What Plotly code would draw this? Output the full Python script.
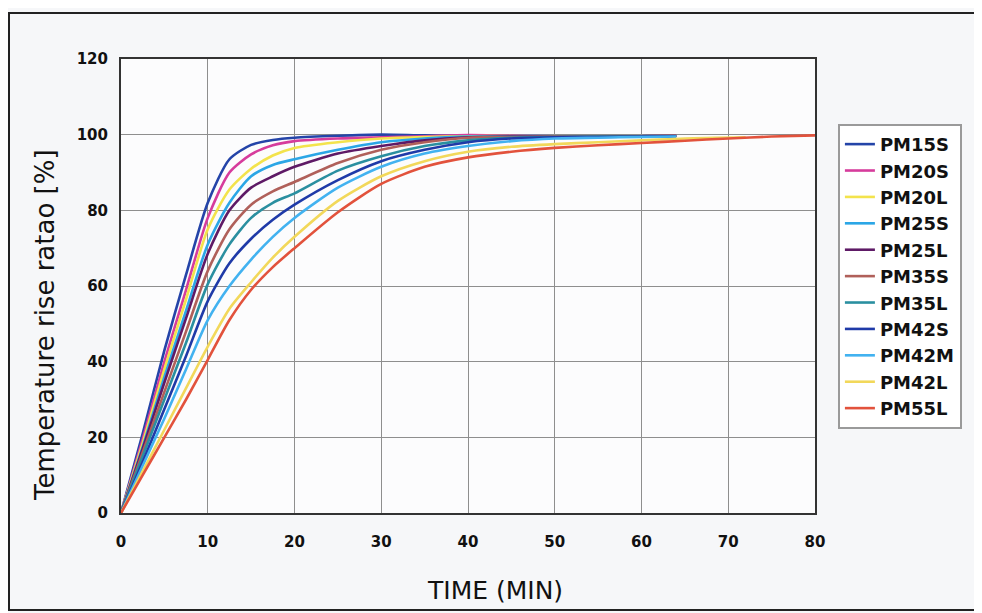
import plotly.graph_objects as go

# ---- data ----
names = ["PM15S", "PM20S", "PM20L", "PM25S", "PM25L", "PM35S",
         "PM35L", "PM42S", "PM42M", "PM42L", "PM55L"]

t_main = [0, 2.5, 5, 7.5, 10, 12.5, 15, 17.5, 20, 25, 30, 35, 40, 45, 50, 55, 60, 64]
t_42L = [0, 2.5, 5, 7.5, 10, 12.5, 15, 17.5, 20, 25, 30, 35, 40, 45, 50, 55, 60, 65, 72]
t_55L = [0, 2.5, 5, 7.5, 10, 12.5, 15, 17.5, 20, 25, 30, 35, 40, 45, 50, 55, 60, 65, 70, 75, 80]

pm15s = [0, 21, 43, 63, 82, 93.5, 97.3, 98.6, 99.2, 99.7, 100, 99.8, 99.6, 99.5, 99.5, 99.6, 99.6, 99.8]
pm20s = [0, 19.5, 40, 59, 78, 90, 94.8, 97.2, 98.3, 99.0, 99.3, 99.6, 99.9, 99.7, 99.6, 99.6, 99.6, 99.7]
pm20l = [0, 18.5, 38, 56.5, 75, 85.5, 91, 94.5, 96.5, 98, 99, 99.4, 99.6, 99.6, 99.6, 99.6, 99.6, 99.7]
pm25s = [0, 17.5, 36, 53.5, 71, 82, 89, 92, 93.5, 96, 98, 99, 99.5, 99.6, 99.6, 99.6, 99.6, 99.7]
pm25l = [0, 17, 34.5, 51.5, 68.5, 80, 86, 89, 91.5, 95, 97, 98.5, 99.3, 99.5, 99.5, 99.5, 99.6, 99.7]
pm35s = [0, 16, 32, 48, 64, 75, 81.5, 85, 87.5, 92.5, 96, 98, 99.2, 99.4, 99.5, 99.5, 99.6, 99.7]
pm35l = [0, 15, 30, 45, 60.5, 71, 78, 82, 84.5, 90.5, 94.3, 97, 98.5, 99.2, 99.4, 99.5, 99.5, 99.6]
pm42s = [0, 13.5, 27.5, 41.5, 56, 66, 72.5, 77.5, 81.5, 88, 93, 96, 98, 99, 99.3, 99.4, 99.5, 99.6]
pm42m = [0, 12.5, 25, 38, 51, 60, 67, 73, 78, 86, 91.5, 95, 97, 98.3, 99, 99.2, 99.4, 99.5]
pm42l = [0, 11, 22, 33, 44, 54, 61, 67.5, 73, 82.5, 89, 93, 95.5, 96.8, 97.5, 98, 98.5, 99, 99.3]
pm55l = [0, 10, 20, 30, 40.5, 51, 59, 65, 70, 79.5, 87, 91.5, 94, 95.5, 96.5, 97.2, 97.8, 98.4, 99, 99.5, 99.8]

series = [
    (t_main, pm15s), (t_main, pm20s), (t_main, pm20l), (t_main, pm25s),
    (t_main, pm25l), (t_main, pm35s), (t_main, pm35l), (t_main, pm42s),
    (t_main, pm42m), (t_42L, pm42l), (t_55L, pm55l),
]
colors = ["#2444a8", "#d63c9c", "#f3e34c", "#2ba6e6", "#5e1a66", "#b0605a",
          "#2a8fa0", "#1f3aa8", "#42b2f0", "#f2d85a", "#e2523c"]

x_ticks = [0, 10, 20, 30, 40, 50, 60, 70, 80]
y_ticks = [0, 20, 40, 60, 80, 100, 120]
x_title = "TIME (MIN)"
y_title = "Temperature rise ratao [%]"

fig = go.Figure()
for name, (xs, ys), c in zip(names, series, colors):
    fig.add_trace(go.Scatter(x=xs, y=ys, name=name, mode="lines",
                             line=dict(color=c, width=2.6, shape="spline", smoothing=0.7)))

FONT = "DejaVu Sans"
# page body has an 8px margin: figure is drawn at (8, 8)
W, H = 974, 605
L, T, PW, PH = 113, 51, 694, 454
fig.update_layout(
    width=W, height=H,
    margin=dict(l=L, r=W - L - PW, t=T, b=H - T - PH),
    paper_bgcolor="#f6f7f9",
    plot_bgcolor="#fcfcfd",
    font=dict(family=FONT, color="#111111"),
    showlegend=True,
    legend=dict(x=1.033, y=0.857, xanchor="left", yanchor="top",
                bgcolor="#ffffff", bordercolor="#9a9a9a", borderwidth=2,
                font=dict(family=FONT, size=18, color="#111111", weight="bold"),
                itemwidth=30),
    xaxis=dict(range=[0, 80], tickvals=x_ticks, showgrid=True, gridcolor="#8e8e8e",
               gridwidth=1, zeroline=False, showline=True, linecolor="#333333",
               linewidth=2, mirror=True, ticks="", ticklabelstandoff=14,
               tickfont=dict(family=FONT, size=15, weight="bold", color="#111111")),
    yaxis=dict(range=[0, 120], tickvals=y_ticks, showgrid=True, gridcolor="#8e8e8e",
               gridwidth=1, zeroline=False, showline=True, linecolor="#333333",
               linewidth=2, mirror=True, ticks="", ticklabelstandoff=8,
               tickfont=dict(family=FONT, size=15, weight="bold", color="#111111")),
)

# axis titles (offset from the plot centre as in the original)
fig.add_annotation(text=x_title, xref="paper", yref="paper",
                   x=(495 - 121) / PW, y=(513 - 590) / PH,
                   xanchor="center", yanchor="middle", showarrow=False,
                   font=dict(family=FONT, size=25, color="#111111"))
fig.add_annotation(text=y_title, xref="paper", yref="paper",
                   x=(45 - 121) / PW, y=(513 - 325) / PH, textangle=-90,
                   xanchor="center", yanchor="middle", showarrow=False,
                   font=dict(family=FONT, size=26, color="#111111"))

# outer frame of the figure
fig.add_shape(type="rect", xref="paper", yref="paper",
              x0=(1 - L) / PW, x1=(971 - L) / PW,
              y0=(T + PH - 602) / PH, y1=(T + PH - 5) / PH,
              line=dict(color="#222222", width=2), layer="below")

fig.write_html("out.html")
